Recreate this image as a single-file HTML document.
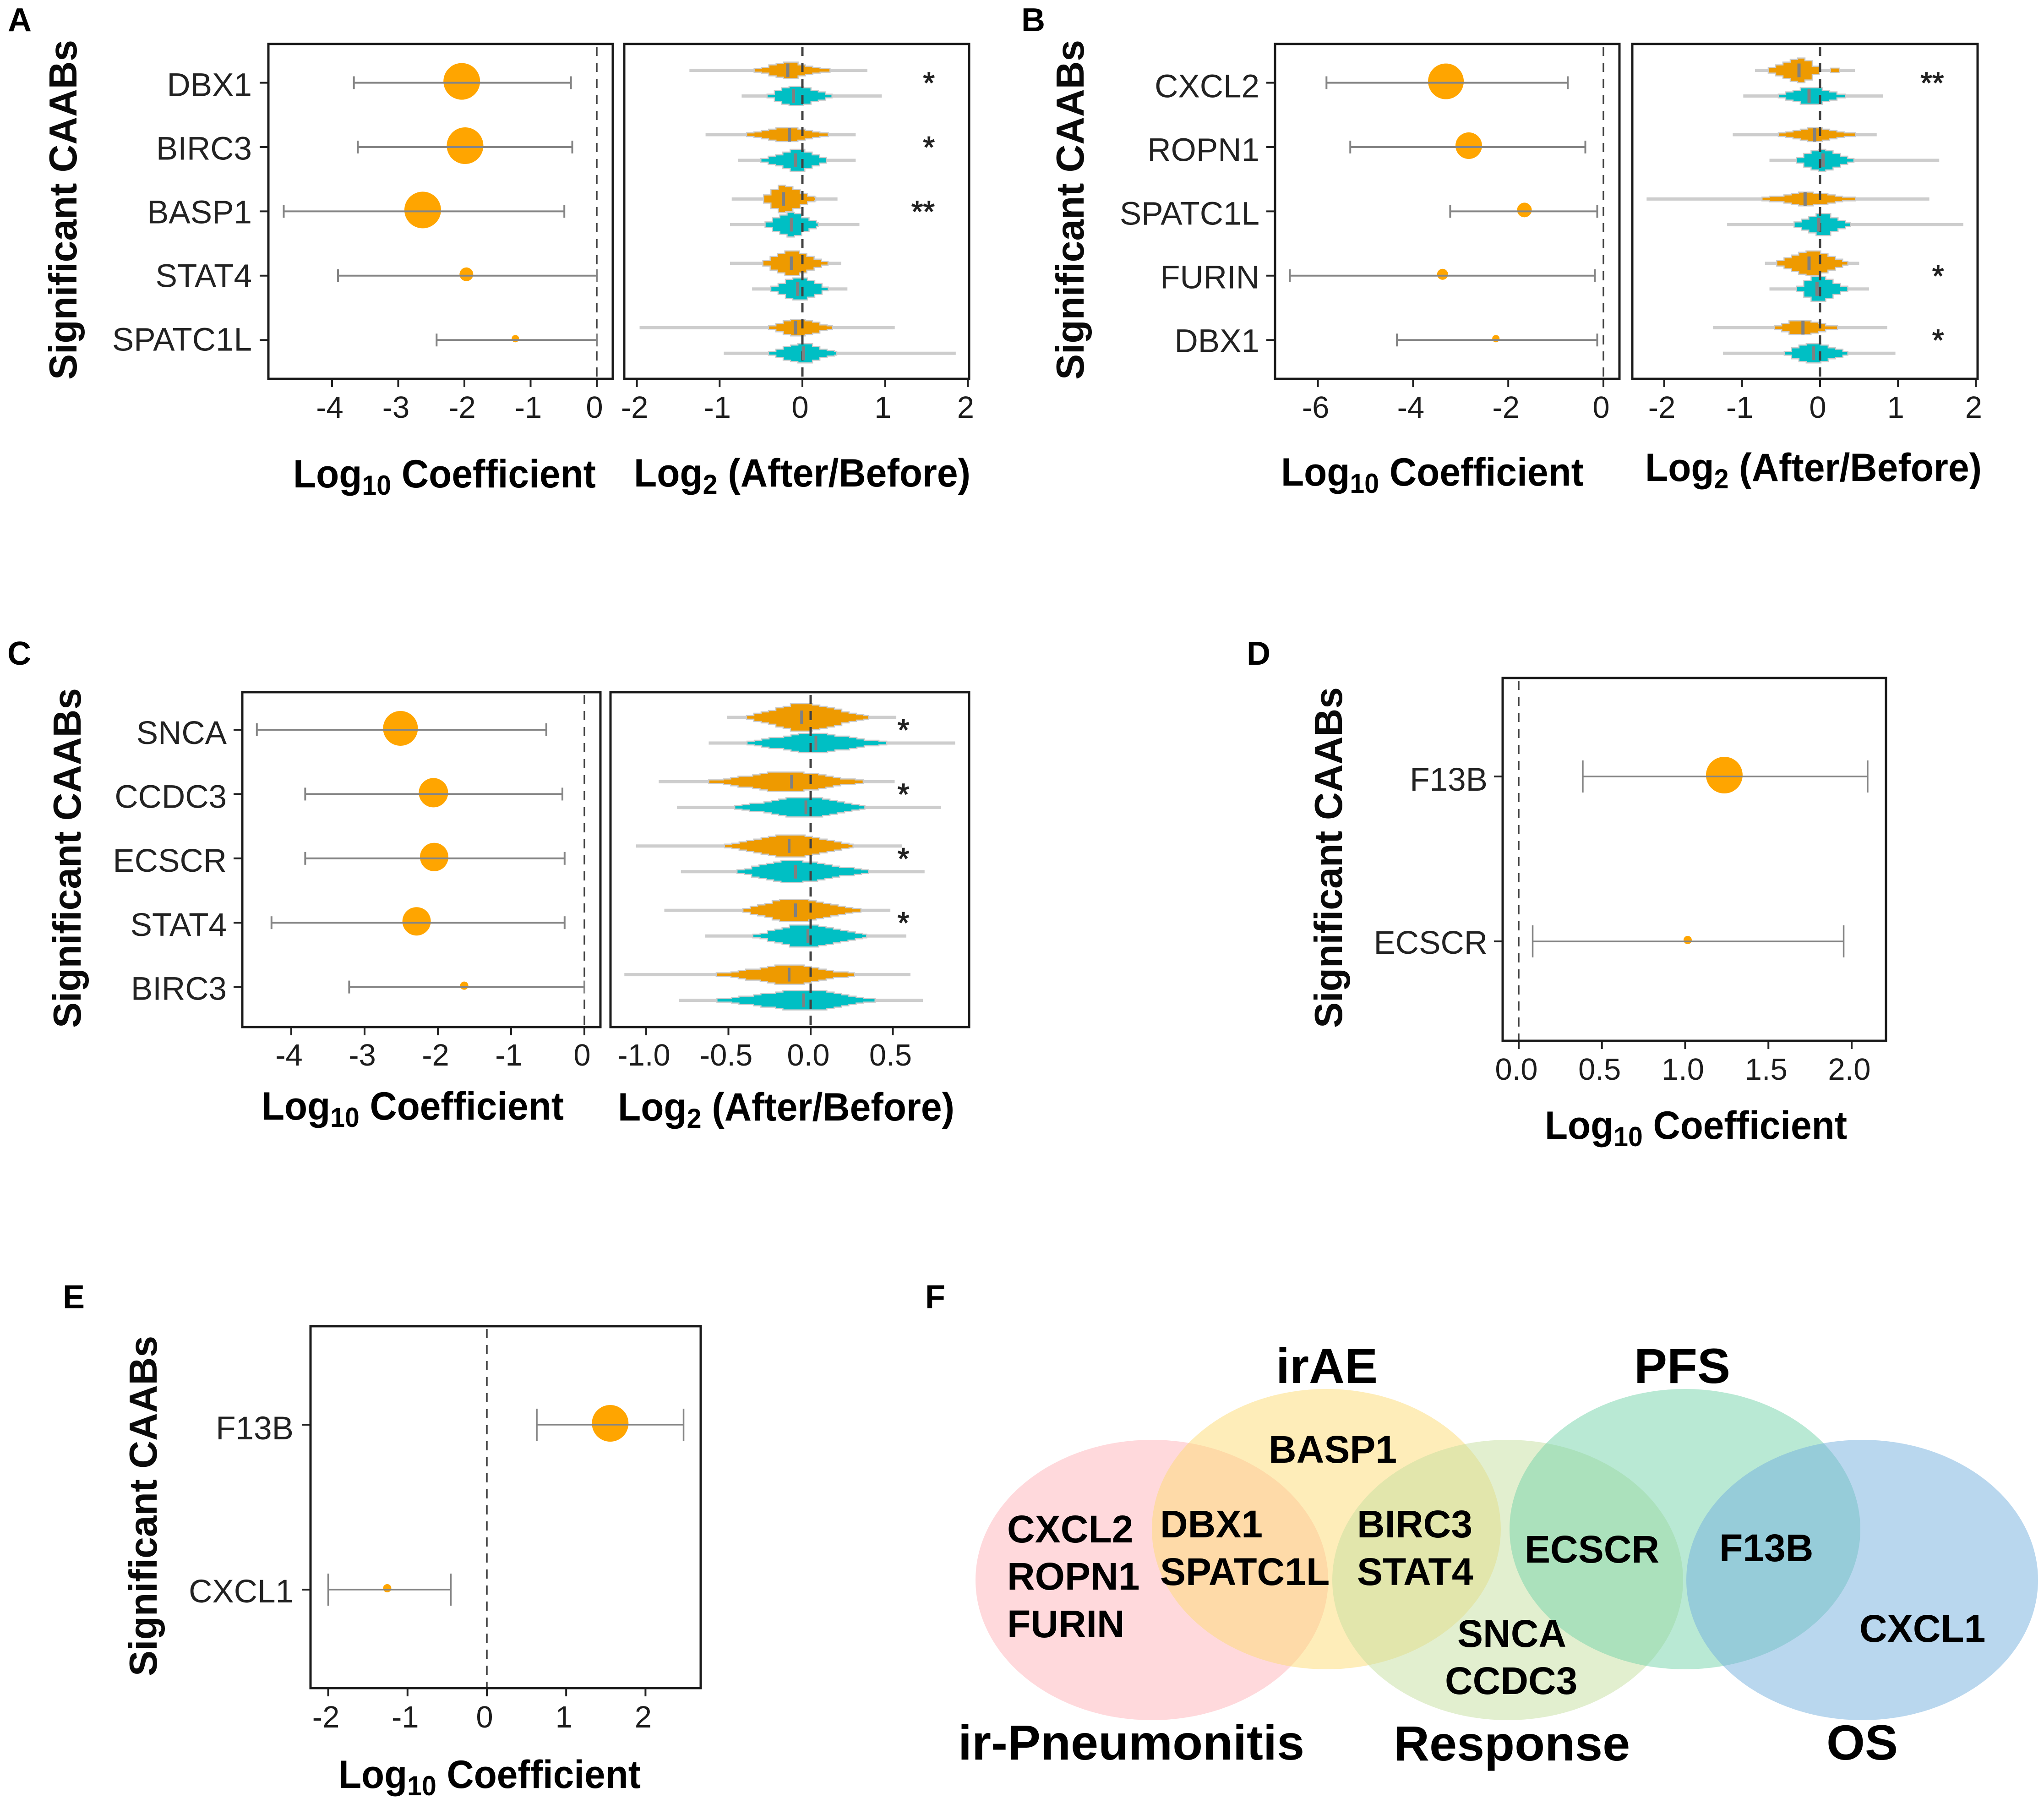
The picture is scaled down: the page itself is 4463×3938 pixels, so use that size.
<!DOCTYPE html>
<html lang="en">
<head>
<meta charset="utf-8">
<title>Significant CAABs forest plots and Venn diagram</title>
<style>
html,body{margin:0;padding:0;background:#fff;}
body{width:4463px;height:3938px;overflow:hidden;position:relative;}
svg{position:absolute;left:0;top:0;display:block;}
text{font-family:"Liberation Sans",sans-serif;}
.tick{font-size:67px;fill:#1c1c1c;}
.cat{font-size:71px;fill:#222;text-anchor:end;}
.title{font-size:86px;font-weight:bold;fill:#000;}
.sub{font-size:60px;}
.ytitle{font-size:85px;font-weight:bold;fill:#0a0a0a;}
.panel{font-size:72px;font-weight:bold;fill:#000;}
.gene{font-size:84px;font-weight:bold;fill:#000;}
.set{font-size:108px;font-weight:bold;fill:#000;}
.star{font-size:66px;fill:#222;stroke:#222;stroke-width:1.5px;text-anchor:end;}
</style>
</head>
<body>
<svg id="fig" xmlns="http://www.w3.org/2000/svg" width="4463" height="3938" viewBox="0 0 4463 3938">
  <rect x="0" y="0" width="4463" height="3938" fill="#fff"/>

  <text class="panel" x="17" y="68">A</text>
  <text class="panel" x="2230" y="68">B</text>
  <text class="panel" x="16" y="1451">C</text>
  <text class="panel" x="2722" y="1451">D</text>
  <text class="panel" x="137" y="2856">E</text>
  <text class="panel" x="2020" y="2856">F</text>

  <text class="ytitle" transform="translate(167,829) rotate(-90)" textLength="742" lengthAdjust="spacingAndGlyphs">Significant CAABs</text>
  <text class="ytitle" transform="translate(2366,829) rotate(-90)" textLength="742" lengthAdjust="spacingAndGlyphs">Significant CAABs</text>
  <text class="ytitle" transform="translate(176,2244) rotate(-90)" textLength="742" lengthAdjust="spacingAndGlyphs">Significant CAABs</text>
  <text class="ytitle" transform="translate(2930,2244) rotate(-90)" textLength="744" lengthAdjust="spacingAndGlyphs">Significant CAABs</text>
  <text class="ytitle" transform="translate(342,3659) rotate(-90)" textLength="743" lengthAdjust="spacingAndGlyphs">Significant CAABs</text>

  <text class="title" x="640" y="1064" textLength="661" lengthAdjust="spacingAndGlyphs">Log<tspan class="sub" dy="16">10</tspan><tspan dy="-16"> Coefficient</tspan></text>
  <text class="title" x="1384" y="1062" textLength="735" lengthAdjust="spacingAndGlyphs">Log<tspan class="sub" dy="16">2</tspan><tspan dy="-16"> (After/Before)</tspan></text>
  <text class="title" x="2797" y="1060" textLength="661" lengthAdjust="spacingAndGlyphs">Log<tspan class="sub" dy="16">10</tspan><tspan dy="-16"> Coefficient</tspan></text>
  <text class="title" x="3592" y="1050" textLength="735" lengthAdjust="spacingAndGlyphs">Log<tspan class="sub" dy="16">2</tspan><tspan dy="-16"> (After/Before)</tspan></text>
  <text class="title" x="571" y="2444" textLength="660" lengthAdjust="spacingAndGlyphs">Log<tspan class="sub" dy="16">10</tspan><tspan dy="-16"> Coefficient</tspan></text>
  <text class="title" x="1349" y="2446" textLength="735" lengthAdjust="spacingAndGlyphs">Log<tspan class="sub" dy="16">2</tspan><tspan dy="-16"> (After/Before)</tspan></text>
  <text class="title" x="3373" y="2486" textLength="660" lengthAdjust="spacingAndGlyphs">Log<tspan class="sub" dy="16">10</tspan><tspan dy="-16"> Coefficient</tspan></text>
  <text class="title" x="739" y="3903" textLength="660" lengthAdjust="spacingAndGlyphs">Log<tspan class="sub" dy="16">10</tspan><tspan dy="-16"> Coefficient</tspan></text>

  <g>
    <ellipse cx="2515" cy="3449" rx="385" ry="306" fill="#FFB3BA" fill-opacity=".5"/>
    <ellipse cx="2896" cy="3338" rx="381" ry="306" fill="#FDDC73" fill-opacity=".5"/>
    <ellipse cx="3292" cy="3449" rx="383" ry="306" fill="#C5DF9F" fill-opacity=".5"/>
    <ellipse cx="3679" cy="3338" rx="383" ry="306" fill="#73D3A9" fill-opacity=".5"/>
    <ellipse cx="4066" cy="3449" rx="384" ry="306" fill="#73AFDD" fill-opacity=".5"/>
    <text class="set" x="2786" y="3019">irAE</text>
    <text class="set" x="3568" y="3019">PFS</text>
    <text class="set" x="2092" y="3841">ir-Pneumonitis</text>
    <text class="set" x="3043" y="3843">Response</text>
    <text class="set" x="3988" y="3841">OS</text>
    <text class="gene" x="2770" y="3193">BASP1</text>
    <text class="gene" x="2199" y="3367">CXCL2</text>
    <text class="gene" x="2199" y="3470">ROPN1</text>
    <text class="gene" x="2199" y="3574">FURIN</text>
    <text class="gene" x="2533" y="3356">DBX1</text>
    <text class="gene" x="2533" y="3460">SPATC1L</text>
    <text class="gene" x="2963" y="3356">BIRC3</text>
    <text class="gene" x="2963" y="3460">STAT4</text>
    <text class="gene" x="3329" y="3411">ECSCR</text>
    <text class="gene" x="3754" y="3408">F13B</text>
    <text class="gene" x="3182" y="3595">SNCA</text>
    <text class="gene" x="3155" y="3698">CCDC3</text>
    <text class="gene" x="4060" y="3584">CXCL1</text>
  </g>
</svg>

<script>
// ---- Panel A data ----
const panelACategories = ['DBX1','BIRC3','BASP1','STAT4','SPATC1L'];
const panelACoef = [-2.04,-1.99,-2.63,-1.97,-1.23];
const panelACiLow = [-3.67,-3.61,-4.73,-3.91,-2.42];
const panelACiHigh = [-0.39,-0.37,-0.49,0.0,0.0];
const panelASignificance = [4,4,4,1.5,0.8];
const panelAForestTicks = ['-4','-3','-2','-1','0'];
const panelAViolinTicks = ['-2','-1','0','1','2'];
// each violin: min, core low, mode, median, core high, max, density
const panelABefore = [
  [-1.365,-0.583,-0.192,-0.177,0.334,0.785,1.7],
  [-1.17,-0.674,-0.162,-0.156,0.313,0.644,1.6],
  [-0.854,-0.469,-0.253,-0.229,0.162,0.424,3.0],
  [-0.875,-0.478,-0.147,-0.132,0.31,0.469,2.7],
  [-1.967,-0.409,-0.072,-0.084,0.364,1.116,1.9]
];
const panelAAfter = [
  [-0.734,-0.427,-0.072,-0.108,0.358,0.959,2.2],
  [-0.779,-0.502,-0.027,-0.084,0.289,0.644,2.3],
  [-0.875,-0.451,-0.132,-0.132,0.192,0.689,2.6],
  [-0.608,-0.382,-0.042,-0.057,0.313,0.544,2.5],
  [-0.95,-0.409,0.003,0.012,0.415,1.853,2.1]
];
const panelAStars = ['*','*','**','',''];

// ---- Panel B data ----
const panelBCategories = ['CXCL2','ROPN1','SPATC1L','FURIN','DBX1'];
const panelBCoef = [-3.31,-2.83,-1.66,-3.38,-2.26];
const panelBCiLow = [-5.82,-5.32,-3.22,-6.59,-4.34];
const panelBCiHigh = [-0.75,-0.38,-0.13,-0.18,-0.13];
const panelBSignificance = [3.9,2.9,1.6,1.2,0.8];
const panelBForestTicks = ['-6','-4','-2','0'];
const panelBViolinTicks = ['-2','-1','0','1','2'];
const panelBBefore = [
  [-0.835,-0.664,-0.234,-0.27,-0.009,0.447,2.7],
  [-1.12,-0.535,-0.069,-0.069,0.456,0.727,1.5],
  [-2.225,-0.745,-0.189,-0.192,0.456,1.402,1.4],
  [-0.706,-0.556,-0.135,-0.141,0.357,0.502,2.7],
  [-1.375,-0.586,-0.279,-0.219,0.225,0.862,1.5]
];
const panelBAfter = [
  [-0.985,-0.535,-0.114,-0.141,0.327,0.808,1.9],
  [-0.649,-0.303,0.006,0.039,0.435,1.529,2.4],
  [-1.192,-0.333,0.027,-0.015,0.39,1.838,2.3],
  [-0.649,-0.303,-0.024,-0.039,0.357,0.628,2.8],
  [-1.246,-0.459,-0.084,-0.084,0.357,0.967,2.2]
];
const panelBMinorMode = [0.135,0.246];
const panelBStars = ['**','','','*','*'];

// ---- Panel C data ----
const panelCCategories = ['SNCA','CCDC3','ECSCR','STAT4','BIRC3'];
const panelCCoef = [-2.51,-2.06,-2.05,-2.29,-1.64];
const panelCCiLow = [-4.47,-3.81,-3.81,-4.27,-3.21];
const panelCCiHigh = [-0.52,-0.30,-0.27,-0.27,0.0];
const panelCSignificance = [3.8,3.2,3.1,3.1,0.9];
const panelCForestTicks = ['-4','-3','-2','-1','0'];
const panelCViolinTicks = ['-1.0','-0.5','0.0','0.5'];
const panelCBefore = [
  [-0.508,-0.39,-0.046,-0.055,0.353,0.521,2.9],
  [-0.924,-0.62,-0.132,-0.116,0.32,0.511,2.1],
  [-1.062,-0.524,-0.103,-0.131,0.258,0.557,2.4],
  [-0.89,-0.412,-0.103,-0.092,0.306,0.485,2.5],
  [-1.133,-0.574,-0.118,-0.131,0.267,0.607,2.0]
];
const panelCAfter = [
  [-0.62,-0.387,0.0,0.032,0.463,0.879,2.1],
  [-0.813,-0.462,-0.032,-0.029,0.33,0.793,2.2],
  [-0.789,-0.448,-0.132,-0.092,0.353,0.693,2.4],
  [-0.641,-0.352,-0.032,-0.017,0.341,0.582,2.5],
  [-0.802,-0.57,-0.003,-0.043,0.392,0.683,2.2]
];
const panelCStars = ['*','*','*','*',''];

// ---- Panel D data ----
const panelDCategories = ['F13B','ECSCR'];
const panelDCoef = [1.235,1.015];
const panelDCiLow = [0.385,0.084];
const panelDCiHigh = [2.096,1.952];
const panelDSignificance = [4,0.9];
const panelDForestTicks = ['0.0','0.5','1.0','1.5','2.0'];

// ---- Panel E data ----
const panelECategories = ['F13B','CXCL1'];
const panelECoef = [1.555,-1.256];
const panelECiLow = [0.63,-2.0];
const panelECiHigh = [2.48,-0.454];
const panelESignificance = [4,0.9];
const panelEForestTicks = ['-2','-1','0','1','2'];

// ---- Drawing helpers ----
const NS = 'http://www.w3.org/2000/svg';
const fig = document.getElementById('fig');

function mk(parent, tag, attrs, text) {
  const el = document.createElementNS(NS, tag);
  for (const k in attrs) el.setAttribute(k, attrs[k]);
  if (text !== undefined) el.textContent = text;
  parent.appendChild(el);
  return el;
}

function linear(zeroPx, pxPerUnit) {
  return function (v) { return zeroPx + pxPerUnit * v; };
}

function drawFrame(g, box, ticks, x, tickBaseline, prefix) {
  for (const label of ticks) {
    const px = x(Number(label));
    const t = mk(g, 'line', {x1: px, x2: px, y1: box.y1, y2: box.y1 + 18, stroke: '#222', 'stroke-width': 4});
    
    
    const l = mk(g, 'text', {x: px - 5, y: tickBaseline, 'text-anchor': 'middle', class: 'tick'}, label);
    
    
  }
}

function drawBorder(g, box, prefix) {
  const r = mk(g, 'rect', {x: box.x0, y: box.y0, width: box.x1 - box.x0, height: box.y1 - box.y0, fill: 'none', stroke: '#1a1a1a', 'stroke-width': 5});
  
  
}

function drawZero(g, box, x, width, prefix) {
  const z = mk(g, 'line', {x1: x(0), x2: x(0), y1: box.y0 + 6, y2: box.y1, stroke: '#404040', 'stroke-width': width, 'stroke-dasharray': '20 15'});
  
  
}

function drawForest(prefix, box, x, rowY, categories, coef, low, high, signif, ticks, tickBaseline, labelEnd, labelDy, labelDrift, capHalf, lineW) {
  const g = mk(fig, 'g', {});
  
  
  drawZero(g, box, x, 3.5, prefix);
  drawFrame(g, box, ticks, x, tickBaseline, prefix);
  categories.forEach(function (cat, i) {
    const y = rowY(i);
    const tick = mk(g, 'line', {x1: box.x0 - 19, x2: box.x0, y1: y, y2: y, stroke: '#222', 'stroke-width': 4});
    
    
    const label = mk(g, 'text', {x: labelEnd, y: y + labelDy - labelDrift * i, class: 'cat'}, cat);
    
    
    const dot = mk(g, 'circle', {cx: x(coef[i]), cy: y - 3, r: 10 * signif[i], fill: '#FFA500'});
    
    
    const ci = mk(g, 'line', {x1: x(low[i]), x2: x(high[i]), y1: y, y2: y, stroke: '#858585', 'stroke-width': lineW});
    
    
    const capA = mk(g, 'line', {x1: x(low[i]), x2: x(low[i]), y1: y - capHalf, y2: y + capHalf, stroke: '#858585', 'stroke-width': lineW});
    
    
    const capB = mk(g, 'line', {x1: x(high[i]), x2: x(high[i]), y1: y - capHalf, y2: y + capHalf, stroke: '#858585', 'stroke-width': lineW});
    
    
  });
  drawBorder(g, box, prefix);
}

function violinPoints(d, x, cy) {
  const lo = x(d[1]), mode = x(d[2]), hi = x(d[4]), H = d[6] * 10, bin = 16;
  const top = [], bottom = [];
  for (let a = lo; a < hi; a += bin) {
    const b = Math.min(a + bin, hi), m = (a + b) / 2;
    const t = m < mode ? (m - lo) / (mode - lo) : (hi - m) / (hi - mode);
    const hh = Math.max(4, Math.round(H * Math.min(1, t * 1.12 + 0.06) / 3) * 3);
    top.push(a + ',' + (cy - hh), b + ',' + (cy - hh));
    bottom.unshift(b + ',' + (cy + hh), a + ',' + (cy + hh));
  }
  return top.concat(bottom).join(' ');
}

function drawOneViolin(g, d, x, cy, color, prefix) {
  const tail = mk(g, 'rect', {x: x(d[0]), y: cy - 3.5, width: x(d[5]) - x(d[0]), height: 7, fill: '#cdcdcd'});
  
  
  const body = mk(g, 'polygon', {points: violinPoints(d, x, cy), fill: color, stroke: '#cbcbcb', 'stroke-width': 2.5});
  
  
}

function drawViolinPanel(prefix, box, x, rowY, before, after, stars, ticks, tickBaseline, starEnd, medianW) {
  const g = mk(fig, 'g', {});
  
  
  drawFrame(g, box, ticks, x, tickBaseline, prefix);
  before.forEach(function (d, i) { drawOneViolin(g, d, x, rowY(i) - 27, '#EE9A00', prefix + '-before'); });
  after.forEach(function (d, i) { drawOneViolin(g, d, x, rowY(i) + 29, '#00BFC4', prefix + '-after'); });
  drawZero(g, box, x, 5, prefix);
  [[before, -27], [after, 29]].forEach(function (pair) {
    pair[0].forEach(function (d, i) {
      const cy = rowY(i) + pair[1];
      const med = mk(g, 'rect', {x: x(d[3]) - medianW / 2, y: cy - 15, width: medianW, height: 30, fill: '#808080'});
      
      
    });
  });
  stars.forEach(function (s, i) {
    if (!s) return;
    const st = mk(g, 'text', {x: starEnd, y: rowY(i) + 23, class: 'star'}, s);
    
    
  });
  drawBorder(g, box, prefix);
  return g;
}

function rows(first, step) {
  return function (i) { return first + step * i; };
}

// ---- Panel A ----
const boxAL = {x0: 586, x1: 1338, y0: 96, y1: 827};
const boxAR = {x0: 1363, x1: 2116, y0: 96, y1: 827};
const rowA = rows(180.6, 140.4);
const xAL = linear(1303, 144.5);
const xAR = linear(1752, 180.7);
drawForest('panel-a', boxAL, xAL, rowA, panelACategories, panelACoef, panelACiLow, panelACiHigh, panelASignificance, panelAForestTicks, 912, 550, 29, 1.4, 14, 4);
drawViolinPanel('panel-a', boxAR, xAR, rowA, panelABefore, panelAAfter, panelAStars, panelAViolinTicks, 912, xAR(1.6), 7);

// ---- Panel B ----
const boxBL = {x0: 2784, x1: 3536, y0: 96, y1: 827};
const boxBR = {x0: 3564, x1: 4318, y0: 96, y1: 827};
const rowB = rows(180.6, 140.4);
const xBL = linear(3501, 103.9);
const xBR = linear(3974, 170.2);
drawForest('panel-b', boxBL, xBL, rowB, panelBCategories, panelBCoef, panelBCiLow, panelBCiHigh, panelBSignificance, panelBForestTicks, 912, 2750, 32, 1.4, 14, 4);
const gBR = drawViolinPanel('panel-b', boxBR, xBR, rowB, panelBBefore, panelBAfter, panelBStars, panelBViolinTicks, 912, xBR(1.59), 7);
const minorMode = mk(gBR, 'rect', {x: xBR(panelBMinorMode[0]), y: rowB(0) - 27 - 5, width: xBR(panelBMinorMode[1]) - xBR(panelBMinorMode[0]), height: 10, fill: '#EE9A00', stroke: '#cbcbcb', 'stroke-width': 2});



// ---- Panel C ----
const boxCL = {x0: 529, x1: 1311, y0: 1511, y1: 2242};
const boxCR = {x0: 1333, x1: 2116, y0: 1511, y1: 2242};
const rowC = rows(1593, 140.4);
const xCL = linear(1276, 160);
const xCR = linear(1770, 359);
drawForest('panel-c', boxCL, xCL, rowC, panelCCategories, panelCCoef, panelCCiLow, panelCCiHigh, panelCSignificance, panelCForestTicks, 2326, 495, 31, 0.8, 14, 4);
drawViolinPanel('panel-c', boxCR, xCR, rowC, panelCBefore, panelCAfter, panelCStars, panelCViolinTicks, 2326, xCR(0.6), 6);

// ---- Panel D ----
const boxD = {x0: 3281, x1: 4118, y0: 1480, y1: 2272};
drawForest('panel-d', boxD, linear(3316, 363.5), rows(1695, 360), panelDCategories, panelDCoef, panelDCiLow, panelDCiHigh, panelDSignificance, panelDForestTicks, 2357, 3248, 31, 4, 35, 3.5);

// ---- Panel E ----
const boxE = {x0: 678, x1: 1530, y0: 2895, y1: 3685};
drawForest('panel-e', boxE, linear(1063, 173.2), rows(3110, 360), panelECategories, panelECoef, panelECiLow, panelECiHigh, panelESignificance, panelEForestTicks, 3771, 641, 32, 4, 35, 3.5);
</script>
</body>
</html>
